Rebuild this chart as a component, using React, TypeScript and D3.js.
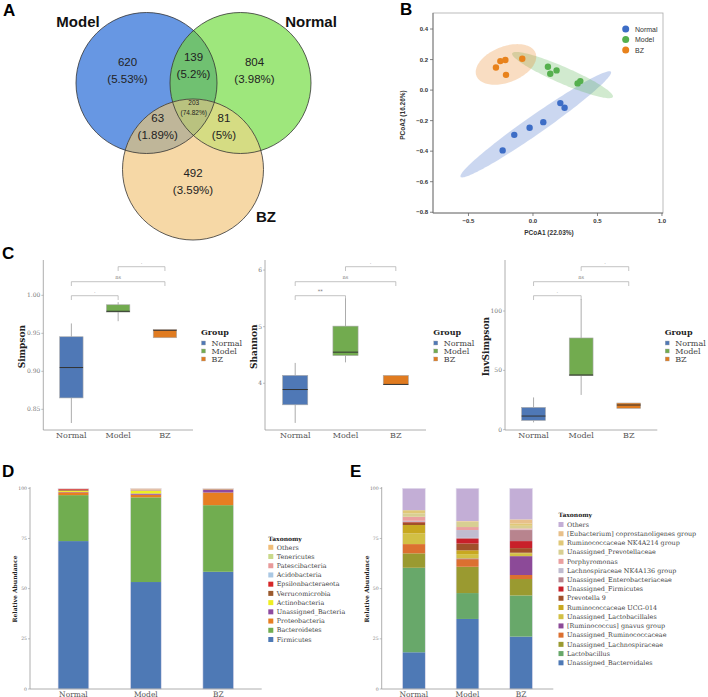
import React from 'react';
import * as d3 from 'd3';

const SANS = 'Liberation Sans, Arial, Helvetica, sans-serif';
const SERIF = 'DejaVu Serif, serif';

const groups = ['Normal', 'Model', 'BZ'];
const groupColors = ['#4f78b6', '#72ab4f', '#e07b20'];

// ---- A: Venn
const vennSets = ['Model', 'Normal', 'BZ'];
const vennCounts = [620, 804, 492, 139, 63, 81, 203];
const vennPercents = ['5.53%', '3.98%', '3.59%', '5.2%', '1.89%', '5%', '74.82%'];

// ---- B: PCoA
const pcoaGroups = ['Normal', 'Model', 'BZ'];
const pcoaColors = ['#3d6dc6', '#55b04e', '#e8821c'];
const pcoaNormalX = [-0.235, -0.145, -0.026, 0.08, 0.212, 0.245];
const pcoaNormalY = [-0.395, -0.293, -0.247, -0.21, -0.085, -0.116];
const pcoaModelX = [0.116, 0.134, 0.183, 0.346, 0.367];
const pcoaModelY = [0.153, 0.107, 0.129, 0.044, 0.059];
const pcoaBZX = [-0.287, -0.253, -0.214, -0.209, -0.083];
const pcoaBZY = [0.148, 0.19, 0.197, 0.1, 0.205];
const pcoaXTicks = [-0.5, 0, 0.5, 1.0];
const pcoaYTicks = [0.4, 0.2, 0, -0.2, -0.4, -0.6, -0.8];

// ---- C: alpha diversity  [lower whisker, q1, median, q3, upper whisker]
const simpsonStats = [
  [0.832, 0.865, 0.905, 0.9455, 0.963],
  [0.966, 0.978, 0.979, 0.9876, 0.991],
  [0.9442, 0.9442, 0.954, 0.9548, 0.9548],
];
const shannonStats = [
  [3.3, 3.62, 3.89, 4.14, 4.36],
  [4.37, 4.49, 4.55, 5.01, 5.5],
  [3.98, 3.98, 3.98, 4.14, 4.14],
];
const invSimpsonStats = [
  [6.2, 7.8, 11.5, 18.8, 27.2],
  [29.3, 45.5, 46.1, 77.3, 110],
  [18, 18, 20.8, 22.5, 22.5],
];
const simpsonTicks = [0.85, 0.9, 0.95, 1.0];
const shannonTicks = [4, 5, 6];
const invSimpsonTicks = [0, 50, 100];
// comparisons: [group a, group b, label]
const simpsonSig: [number, number, string][] = [[0, 1, '.'], [0, 2, 'ns'], [1, 2, '.']];
const shannonSig: [number, number, string][] = [[0, 1, '**'], [0, 2, 'ns'], [1, 2, '.']];
const invSimpsonSig: [number, number, string][] = [[0, 1, '.'], [0, 2, 'ns'], [1, 2, '.']];

// ---- D: phylum
const phylumTaxa = [
  'Firmicutes', 'Bacteroidetes', 'Proteobacteria', 'Unassigned_Bacteria', 'Actinobacteria',
  'Verrucomicrobia', 'Epsilonbacteraeota', 'Acidobacteria', 'Patescibacteria', 'Tenericutes', 'Others',
];
const phylumColors = [
  '#4e79b5', '#71ad50', '#e67e22', '#8e4aa0', '#eeee22',
  '#9b5a2e', '#d62728', '#aac8e4', '#e89a9a', '#c9d98a', '#f0bd78',
];
const phylumNormal = [73.7, 22.9, 1.4, 0.2, 0.6, 0.5, 0.4, 0.05, 0.1, 0.05, 0.1];
const phylumModel = [53.3, 42.2, 1.3, 0.6, 1.4, 0.1, 0.1, 0.1, 0.4, 0.2, 0.3];
const phylumBZ = [58.4, 33.2, 6.3, 1.3, 0.1, 0.2, 0.05, 0.05, 0.2, 0.05, 0.15];

// ---- E: genus
const genusTaxa = [
  'Unassigned_Bacteroidales', 'Lactobacillus', 'Unassigned_Lachnospiraceae', 'Unassigned_Ruminococcaceae',
  '[Ruminococcus] gnavus group', 'Unassigned_Lactobacillales', 'Ruminococcaceae UCG-014', 'Prevotella 9',
  'Unassigned_Firmicutes', 'Unassigned_Enterobacteriaceae', 'Lachnospiraceae NK4A136 group', 'Porphyromonas',
  'Unassigned_Prevotellaceae', 'Ruminococcaceae NK4A214 group', '[Eubacterium] coprostanoligenes group', 'Others',
];
const genusColors = [
  '#4e79b5', '#68a86a', '#9a9a30', '#dc7030',
  '#8c4a98', '#d2c044', '#c8a820', '#a0502a',
  '#c8202a', '#b8848e', '#c0bcd0', '#eaa0a0',
  '#d8cf92', '#e0c878', '#e8c08a', '#c3aed6',
];
const genusNormal = [18.3, 42.1, 7.2, 4.6, 0, 5.3, 4.2, 1.3, 0.2, 0.3, 0.3, 2.0, 1.7, 1.6, 0, 10.9];
const genusModel = [34.9, 12.9, 13.1, 3.8, 0.3, 2.2, 1.9, 3.4, 2.5, 0.3, 3.9, 1.5, 2.6, 0.2, 0.2, 16.3];
const genusBZ = [26.1, 20.5, 8.2, 2.0, 9.4, 1.4, 0.3, 2.3, 3.5, 5.5, 0.3, 0.5, 1.3, 1.2, 2.0, 15.5];
const abundanceTicks = [0, 25, 50, 75, 100];

// ================= layout =================
const VENN_R = 70.5;
const vennCenters = [[146.5, 83], [240.5, 83], [193, 169.5]];
const vennSetLabelPos = [[78, 26.7], [311, 26.7], [266, 221.7]];
const vennRegionPos = [
  [127.5, 66], [254.5, 66], [193, 176.7], [193.5, 60.7], [157.7, 121.7], [224, 121.7], [193.7, 105],
];

function VennPanel() {
  const [cm, cn, cb] = vennCenters;
  const circ = (c: number[], fill: string) => (
    <circle cx={c[0]} cy={c[1]} r={VENN_R} fill={fill} />
  );
  return (
    <g>
      <defs>
        <clipPath id="clipModel">{circ(cm, '#000')}</clipPath>
        <clipPath id="clipNormal">{circ(cn, '#000')}</clipPath>
      </defs>
      {circ(cm, '#6797e3')}
      {circ(cn, '#9ee77c')}
      {circ(cb, '#f6d8a6')}
      <g clipPath="url(#clipModel)">{circ(cn, '#70c171')}</g>
      <g clipPath="url(#clipModel)">{circ(cb, '#bfb699')}</g>
      <g clipPath="url(#clipNormal)">{circ(cb, '#d5dc83')}</g>
      <g clipPath="url(#clipModel)">
        <g clipPath="url(#clipNormal)">{circ(cb, '#b9c27f')}</g>
      </g>
      {vennCenters.map((c, i) => (
        <circle key={i} cx={c[0]} cy={c[1]} r={VENN_R} fill="none" stroke="#333" strokeWidth={0.8} />
      ))}
      {vennSets.map((s, i) => (
        <text key={s} x={vennSetLabelPos[i][0]} y={vennSetLabelPos[i][1]} textAnchor="middle"
          fontFamily={SANS} fontWeight={700} fontSize={15} fill="#111">{s}</text>
      ))}
      {vennCounts.map((n, i) => {
        const small = i === 6;
        const [x, y] = vennRegionPos[i];
        return (
          <g key={i} fontFamily={SANS} fill="#222" textAnchor="middle" fontSize={small ? 6.5 : 11.5}>
            <text x={x} y={y}>{n}</text>
            <text x={x} y={y + (small ? 10 : 17)}>({vennPercents[i]})</text>
          </g>
        );
      })}
    </g>
  );
}

function ellipsePath(xs: number[], ys: number[], sx: any, sy: any, c: number) {
  const n = xs.length;
  const mx = d3.mean(xs) as number;
  const my = d3.mean(ys) as number;
  let a = 0, b = 0, d = 0;
  for (let i = 0; i < n; i++) {
    a += (xs[i] - mx) ** 2;
    d += (ys[i] - my) ** 2;
    b += (xs[i] - mx) * (ys[i] - my);
  }
  a /= n - 1; b /= n - 1; d /= n - 1;
  const half = (a + d) / 2;
  const disc = Math.sqrt(((a - d) / 2) ** 2 + b * b);
  const l1 = half + disc, l2 = Math.max(half - disc, 0);
  const th = 0.5 * Math.atan2(2 * b, a - d);
  const r1 = Math.sqrt(c * l1), r2 = Math.sqrt(c * l2);
  const pts: [number, number][] = d3.range(0, 120).map((k) => {
    const t = (k / 120) * Math.PI * 2;
    const u = r1 * Math.cos(t), v = r2 * Math.sin(t);
    const px = mx + u * Math.cos(th) - v * Math.sin(th);
    const py = my + u * Math.sin(th) + v * Math.cos(th);
    return [sx(px), sy(py)];
  });
  return d3.line().curve(d3.curveLinearClosed)(pts) as string;
}

function PcoaPanel() {
  const L = 433, R = 663, T = 13, B = 213;
  const x = d3.scaleLinear().domain([-0.775, 1.008]).range([L, R]);
  const y = d3.scaleLinear().domain([-0.805, 0.505]).range([B, T]);
  const sets = [
    [pcoaNormalX, pcoaNormalY],
    [pcoaModelX, pcoaModelY],
    [pcoaBZX, pcoaBZY],
  ];
  const fmt = (v: number) => d3.format('.1f')(v).replace('-', '−');
  return (
    <g fontFamily={SANS}>
      <rect x={L} y={T} width={R - L} height={B - T} fill="#fff" stroke="#aaa" strokeWidth={0.8} />
      <line x1={L} x2={L} y1={T} y2={B} stroke="#666" strokeWidth={0.8} />
      <line x1={L} x2={R} y1={B} y2={B} stroke="#666" strokeWidth={0.8} />
      {sets.map((s, i) => (
        <path key={i} d={ellipsePath(s[0], s[1], x, y, i === 1 ? 10.8 : 9.2)} fill={pcoaColors[i]} fillOpacity={0.27} stroke="none" />
      ))}
      {sets.map((s, i) =>
        s[0].map((px, k) => (
          <circle key={`${i}-${k}`} cx={x(px)} cy={y(s[1][k])} r={3.2} fill={pcoaColors[i]} />
        ))
      )}
      {pcoaXTicks.map((t) => (
        <g key={t}>
          <line x1={x(t)} x2={x(t)} y1={B} y2={B + 3} stroke="#666" strokeWidth={0.8} />
          <text x={x(t)} y={B + 10} textAnchor="middle" fontSize={6} fontWeight={700} fill="#333">{fmt(t)}</text>
        </g>
      ))}
      {pcoaYTicks.map((t) => (
        <g key={t}>
          <line x1={L - 3} x2={L} y1={y(t)} y2={y(t)} stroke="#666" strokeWidth={0.8} />
          <text x={L - 5} y={y(t) + 2} textAnchor="end" fontSize={6} fontWeight={700} fill="#333">{fmt(t)}</text>
        </g>
      ))}
      <text x={549} y={235} textAnchor="middle" fontSize={6.5} fontWeight={700} fill="#333">PCoA1 (22.03%)</text>
      <text transform={`translate(405,${(T + B) / 2 + 2}) rotate(-90)`} textAnchor="middle" fontSize={6.5}
        fontWeight={700} fill="#333">PCoA2 (16.26%)</text>
      {pcoaGroups.map((g, i) => (
        <g key={g}>
          <circle cx={625.7} cy={29 + i * 10.5} r={3.5} fill={pcoaColors[i]} />
          <text x={635} y={29 + i * 10.5 + 2.5} fontSize={7} fill="#333">{g}</text>
        </g>
      ))}
    </g>
  );
}

const C_TOP = 260, C_BOTTOM = 430;
const bracketLevels = [295.7, 281.7, 266.7];

interface BoxCfg {
  x0: number; x1: number; titleX: number; legendX: number; title: string;
  domain: [number, number]; ticks: number[]; fmt: (v: number) => string;
  stats: number[][]; sig: [number, number, string][];
}

const boxPanels: BoxCfg[] = [
  { x0: 43.3, x1: 193, titleX: 22, legendX: 201, title: 'Simpson', domain: [0.8228, 1.0465],
    ticks: simpsonTicks, fmt: d3.format('.2f'), stats: simpsonStats, sig: simpsonSig },
  { x0: 265, x1: 426, titleX: 253.5, legendX: 433.3, title: 'Shannon', domain: [3.175, 6.178],
    ticks: shannonTicks, fmt: d3.format('d'), stats: shannonStats, sig: shannonSig },
  { x0: 505, x1: 657.3, titleX: 485.5, legendX: 664.7, title: 'InvSimpson', domain: [-0.25, 143],
    ticks: invSimpsonTicks, fmt: d3.format('d'), stats: invSimpsonStats, sig: invSimpsonSig },
];

function BoxPanel({ cfg }: { cfg: BoxCfg }) {
  const x = d3.scalePoint().domain(groups).range([cfg.x0, cfg.x1]).padding(0.6);
  const y = d3.scaleLinear().domain(cfg.domain).range([C_BOTTOM, C_TOP]);
  const bw = x.step() * 0.5;
  return (
    <g fontFamily={SERIF}>
      <line x1={cfg.x0} x2={cfg.x0} y1={C_TOP} y2={C_BOTTOM} stroke="#999" strokeWidth={0.8} />
      <line x1={cfg.x0} x2={cfg.x1} y1={C_BOTTOM} y2={C_BOTTOM} stroke="#999" strokeWidth={0.8} />
      {cfg.ticks.map((t) => (
        <g key={t}>
          <line x1={cfg.x0 - 2} x2={cfg.x0} y1={y(t)} y2={y(t)} stroke="#999" strokeWidth={0.6} />
          <text x={cfg.x0 - 3} y={y(t) + 2} textAnchor="end" fontSize={6} fill="#777">{cfg.fmt(t)}</text>
        </g>
      ))}
      {groups.map((g, i) => {
        const cx = x(g) as number;
        const [lo, q1, md, q3, hi] = cfg.stats[i];
        return (
          <g key={g}>
            <line x1={cx} x2={cx} y1={y(hi)} y2={y(q3)} stroke="#888" strokeWidth={0.7} />
            <line x1={cx} x2={cx} y1={y(q1)} y2={y(lo)} stroke="#888" strokeWidth={0.7} />
            <rect x={cx - bw / 2} y={y(q3)} width={bw} height={Math.max(y(q1) - y(q3), 0.5)}
              fill={groupColors[i]} stroke="#aaa" strokeWidth={0.6} />
            <line x1={cx - bw / 2} x2={cx + bw / 2} y1={y(md)} y2={y(md)} stroke="#333" strokeWidth={1} />
            <text x={cx} y={438} textAnchor="middle" fontSize={8} fill="#555">{g}</text>
          </g>
        );
      })}
      {cfg.sig.map(([a, b, lab], k) => {
        const xa = x(groups[a]) as number, xb = x(groups[b]) as number;
        const yy = bracketLevels[k];
        return (
          <g key={k}>
            <path d={`M${xa},${yy + 4.3}V${yy}H${xb}V${yy + 4.3}`} fill="none" stroke="#aaa" strokeWidth={0.7} />
            <text x={(xa + xb) / 2} y={yy - 2.5} textAnchor="middle" fontSize={5} fill="#777">{lab}</text>
          </g>
        );
      })}
      <text transform={`translate(${cfg.titleX + 3},346.7) rotate(-90)`} textAnchor="middle" fontSize={9}
        fontWeight={700} fill="#222">{cfg.title}</text>
      <text x={cfg.legendX} y={334.5} fontSize={8} fontWeight={700} fill="#222">Group</text>
      {groups.map((g, i) => (
        <g key={g}>
          <rect x={cfg.legendX + 0.5} y={341 + i * 8} width={4} height={4} fill={groupColors[i]} stroke="#aaa" strokeWidth={0.4} />
          <text x={cfg.legendX + 10.5} y={346 + i * 8} fontSize={8} fill="#444">{g}</text>
        </g>
      ))}
    </g>
  );
}

interface StackCfg {
  x0: number; x1: number; titleX: number; legendX: number; legendTitleY: number; legendY0: number;
  taxa: string[]; colors: string[]; values: number[][];
}

const stackPanels: StackCfg[] = [
  { x0: 30, x1: 261.7, titleX: 15, legendX: 268.3, legendTitleY: 540.5, legendY0: 547.3,
    taxa: phylumTaxa, colors: phylumColors, values: [phylumNormal, phylumModel, phylumBZ] },
  { x0: 381.7, x1: 553.3, titleX: 366.5, legendX: 558.5, legendTitleY: 517, legendY0: 524.5,
    taxa: genusTaxa, colors: genusColors, values: [genusNormal, genusModel, genusBZ] },
];

function StackPanel({ cfg }: { cfg: StackCfg }) {
  const x = d3.scalePoint().domain(groups).range([cfg.x0, cfg.x1]).padding(0.6);
  const y = d3.scaleLinear().domain([0, 100]).range([689, 488.3]);
  const bw = x.step() * 0.425;
  const rows = groups.map((g, gi) => {
    const r: any = { group: g };
    cfg.taxa.forEach((t, ti) => { r[t] = cfg.values[gi][ti]; });
    return r;
  });
  const series = d3.stack().keys(cfg.taxa)(rows);
  const legendTaxa = [...cfg.taxa].reverse();
  const legendColors = [...cfg.colors].reverse();
  return (
    <g fontFamily={SERIF}>
      {series.map((s, si) => (
        <g key={s.key} fill={cfg.colors[si]}>
          {s.map((d: any, gi: number) => (
            d[1] - d[0] > 0 ? (
              <rect key={gi} x={(x(groups[gi]) as number) - bw / 2} y={y(d[1])} width={bw}
                height={y(d[0]) - y(d[1])} />
            ) : null
          ))}
        </g>
      ))}
      {groups.map((g) => (
        <rect key={g} x={(x(g) as number) - bw / 2} y={y(100)} width={bw} height={y(0) - y(100)}
          fill="none" stroke="#e4e0ee" strokeWidth={0.6} />
      ))}
      <line x1={cfg.x0} x2={cfg.x0} y1={487} y2={689} stroke="#999" strokeWidth={0.8} />
      <line x1={cfg.x0} x2={cfg.x1} y1={689} y2={689} stroke="#999" strokeWidth={0.8} />
      {abundanceTicks.map((t) => (
        <g key={t}>
          <line x1={cfg.x0 - 2} x2={cfg.x0} y1={y(t)} y2={y(t)} stroke="#999" strokeWidth={0.6} />
          <text x={cfg.x0 - 3} y={y(t) + 1.6} textAnchor="end" fontSize={4.6} fill="#777">{t}</text>
        </g>
      ))}
      {groups.map((g) => (
        <text key={g} x={x(g) as number} y={696.5} textAnchor="middle" fontSize={7.5} fill="#555">{g}</text>
      ))}
      <text transform={`translate(${cfg.titleX + 2},589) rotate(-90)`} textAnchor="middle" fontSize={6}
        fontWeight={700} fill="#222">Relative Abundance</text>
      <text x={cfg.legendX} y={cfg.legendTitleY} fontSize={6} fontWeight={700} fill="#222">Taxonomy</text>
      {legendTaxa.map((t, i) => {
        const cy = cfg.legendY0 + i * 9.22;
        return (
          <g key={t}>
            <rect x={cfg.legendX} y={cy - 2.5} width={5} height={5} fill={legendColors[i]} />
            <text x={cfg.legendX + 8.4} y={cy + 2.2} fontSize={6.4} fill="#444">{t}</text>
          </g>
        );
      })}
    </g>
  );
}

const panelLetters: [string, number, number][] = [
  ['A', 3, 16], ['B', 400, 15], ['C', 2, 259], ['D', 2, 477], ['E', 350, 477],
];

export default function App() {
  return (
    <svg width={708} height={697} style={{ position: 'absolute', left: 0, top: 0, display: 'block' }}>
      <rect x={0} y={0} width={708} height={697} fill="#fff" />
      <VennPanel />
      <PcoaPanel />
      {boxPanels.map((c) => <BoxPanel key={c.title} cfg={c} />)}
      {stackPanels.map((c, i) => <StackPanel key={i} cfg={c} />)}
      {panelLetters.map(([l, x, y]) => (
        <text key={l} x={x} y={y} fontFamily={SANS} fontWeight={700} fontSize={17} fill="#000">{l}</text>
      ))}
    </svg>
  );
}
